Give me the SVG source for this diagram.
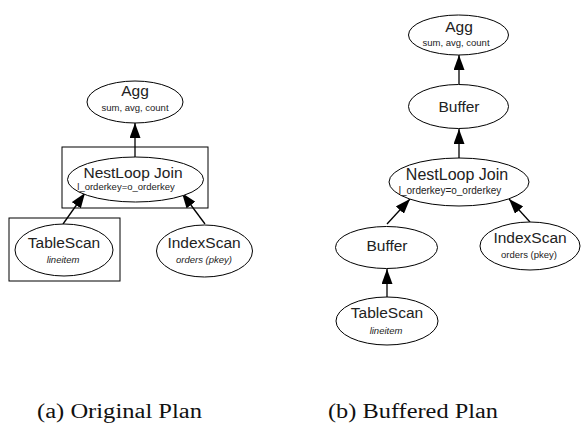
<svg xmlns="http://www.w3.org/2000/svg" width="581" height="424" viewBox="0 0 581 424">
<style>
.n{fill:#fff;stroke:#000;stroke-width:1}
.box{fill:none;stroke:#000;stroke-width:1}
.t{font-family:"Liberation Sans",Arial,sans-serif;fill:#222;text-anchor:middle}
.big{font-size:15.5px}
.small{font-size:9.5px}
.it{font-style:italic}
.e{stroke:#000;stroke-width:1.3;fill:none;marker-end:url(#ah)}
.cap{font-family:"Liberation Serif","Times New Roman",serif;font-size:20px;fill:#111;text-anchor:middle}
</style>
<defs>
<marker id="ah" markerWidth="15" markerHeight="11" refX="15" refY="5.5" viewBox="0 0 15 11" orient="auto" markerUnits="userSpaceOnUse">
<path d="M0,0 L15,5.5 L0,11 Z" fill="#000"/>
</marker>
</defs>
<g id="connectors">
<line class="e" x1="135" y1="157" x2="135" y2="123"/>
<line class="e" x1="63" y1="224" x2="85" y2="193"/>
<line class="e" x1="205" y1="224" x2="182" y2="193"/>
<line class="e" x1="459" y1="84" x2="459" y2="55"/>
<line class="e" x1="459" y1="158" x2="459" y2="129"/>
<line class="e" x1="387" y1="224" x2="410" y2="199"/>
<line class="e" x1="530" y1="222" x2="509" y2="199"/>
<line class="e" x1="387" y1="297" x2="387" y2="269"/>
</g>
<g id="a_agg"><ellipse class="n" cx="135" cy="102" rx="48" ry="21"/><text class="t big" x="135" y="96">Agg</text><text class="t small" x="135" y="111">sum, avg, count</text></g>
<g id="a_box1"><rect class="box" x="62" y="147" width="146" height="61"/></g>
<g id="a_nl"><ellipse class="n" cx="135.5" cy="179.5" rx="68" ry="22.5"/><text class="t big" x="133" y="178">NestLoop Join</text><text class="t small" x="126" y="190">l_orderkey=o_orderkey</text></g>
<g id="a_box2"><rect class="box" x="9" y="218" width="111" height="63"/></g>
<g id="a_ts"><ellipse class="n" cx="64" cy="250" rx="49" ry="26"/><text class="t big" x="64" y="248">TableScan</text><text class="t small it" x="63" y="263">lineitem</text></g>
<g id="a_is"><ellipse class="n" cx="204.5" cy="251" rx="48" ry="26"/><text class="t big" x="204" y="248">IndexScan</text><text class="t small it" x="204" y="263">orders (pkey)</text></g>
<g id="b_agg"><ellipse class="n" cx="458.5" cy="35" rx="50" ry="20"/><text class="t big" x="459" y="32">Agg</text><text class="t small" x="456" y="46">sum, avg, count</text></g>
<g id="b_buf1"><ellipse class="n" cx="458.5" cy="106.5" rx="50" ry="22"/><text class="t big" x="459" y="112">Buffer</text></g>
<g id="b_nl"><ellipse class="n" cx="459" cy="182" rx="70" ry="24"/><text class="t big" x="457" y="180" style="font-size:16px">NestLoop Join</text><text class="t small" x="450" y="194" style="font-size:10px">l_orderkey=o_orderkey</text></g>
<g id="b_buf2"><ellipse class="n" cx="386.5" cy="247.5" rx="51" ry="21"/><text class="t big" x="387" y="251">Buffer</text></g>
<g id="b_is"><ellipse class="n" cx="530" cy="246" rx="50" ry="24"/><text class="t big" x="530" y="243">IndexScan</text><text class="t small" x="529" y="258">orders (pkey)</text></g>
<g id="b_ts"><ellipse class="n" cx="387" cy="321" rx="51" ry="24"/><text class="t big" x="387" y="318">TableScan</text><text class="t small it" x="386" y="334">lineitem</text></g>
<text class="cap" x="119.5" y="418" textLength="165" lengthAdjust="spacingAndGlyphs">(a) Original Plan</text>
<text class="cap" x="413" y="418" textLength="170" lengthAdjust="spacingAndGlyphs">(b) Buffered Plan</text>
</svg>
